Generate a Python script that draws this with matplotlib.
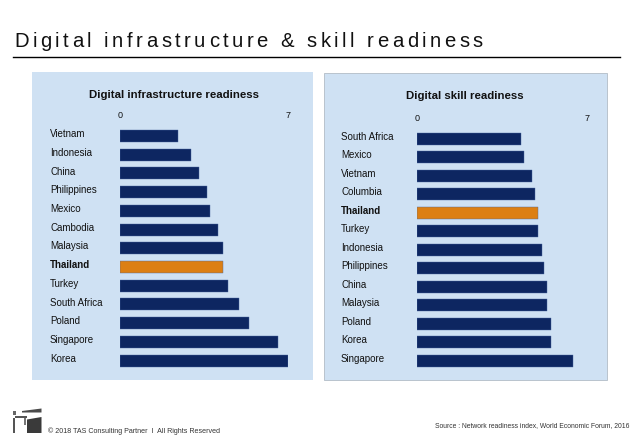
"""Digital infrastructure & skill readiness - two horizontal bar panels."""
import matplotlib
matplotlib.use("Agg")
import matplotlib.pyplot as plt
import matplotlib.patches as mpatches
from matplotlib.transforms import blended_transform_factory

W, H = 638, 442

# Data (scores 0-7)
infra_countries = ["Vietnam", "Indonesia", "China", "Philippines", "Mexico", "Cambodia",
                   "Malaysia", "Thailand", "Turkey", "South Africa", "Poland", "Singapore", "Korea"]
infra_values = [2.40, 2.94, 3.28, 3.62, 3.75, 4.08, 4.28, 4.28, 4.50, 4.96, 5.38, 6.58, 7.00]

skill_countries = ["South Africa", "Mexico", "Vietnam", "Columbia", "Thailand", "Turkey",
                   "Indonesia", "Philippines", "China", "Malaysia", "Poland", "Korea", "Singapore"]
skill_values = [4.29, 4.40, 4.74, 4.87, 4.98, 4.98, 5.14, 5.24, 5.38, 5.38, 5.54, 5.54, 6.42]

highlight = "Thailand"
xticks = [0, 7]

# Colors
C_PANEL = "#cfe1f3"
C_BAR = "#0d2661"
C_HI = "#dc7f13"
C_TEXT = "#111111"
C_FOOT = "#333333"

FONT = "Liberation Sans"
plt.rcParams["font.family"] = [FONT, "DejaVu Sans"]

fig = plt.figure(figsize=(W / 100, H / 100), dpi=100)
fig.patch.set_facecolor("white")


def fx(px):
    return px / W


def fy(py):
    return 1 - py / H


def rect(x0, y0, x1, y1, color, z=-10, **kw):
    fig.patches.append(mpatches.Rectangle((fx(x0), fy(y1)), (x1 - x0) / W, (y1 - y0) / H,
                                          transform=fig.transFigure, facecolor=color,
                                          zorder=z, **kw))


def poly(pts, color):
    fig.patches.append(mpatches.Polygon([(fx(x), fy(y)) for x, y in pts], closed=True,
                                        transform=fig.transFigure, facecolor=color,
                                        edgecolor="none", zorder=1))


def spaced_title(x_px, y_px, s, target_w, size):
    # letter-spaced title, char by char
    r = fig.canvas.get_renderer()
    kw = dict(fontsize=size, family=FONT, color=C_TEXT)

    def width(t):
        tt = fig.text(0, 0, t, **kw)
        bb = tt.get_window_extent(r)
        tt.remove()
        return bb.width

    bar = width("|")
    offs = [0] + [width(s[:i] + "|") - bar for i in range(1, len(s))]
    gap = (target_w - width(s)) / (len(s) - 1)
    for i, ch in enumerate(s):
        if ch == " ":
            continue
        fig.text(fx(x_px + offs[i] + i * gap), fy(y_px), ch, ha="left", va="baseline", **kw)


def panel(box, axbox, title, title_xy, label_x, countries, values, border=False):
    x0, y0, x1, y1 = box
    rect(x0, y0, x1, y1, C_PANEL,
         edgecolor="#b9c3cd" if border else "none", linewidth=0.7 if border else 0)
    fig.text(fx(title_xy[0]), fy(title_xy[1]), title, ha="center", va="center",
             fontsize=8.2, fontweight="bold", color=C_TEXT)

    a0, b0, a1, b1 = axbox
    ax = fig.add_axes([fx(a0), fy(b1), (a1 - a0) / W, (b1 - b0) / H])
    ax.set_facecolor("none")
    pos = list(range(len(countries)))
    colors = [C_HI if c == highlight else C_BAR for c in countries]
    ax.barh(pos, values, height=0.64, color=colors, edgecolor="#4a68a0", linewidth=0.3)
    ax.set_xlim(0, 7)
    ax.set_ylim(len(countries) - 0.5, -0.5)
    for s in ax.spines.values():
        s.set_visible(False)
    ax.set_yticks([])
    ax.xaxis.tick_top()
    ax.set_xticks(xticks)
    ax.set_xticklabels([str(t) for t in xticks])
    ax.tick_params(axis="x", length=0, pad=4.5, labelsize=6.5, labelcolor=C_TEXT)

    tr = blended_transform_factory(fig.transFigure, ax.transData)
    for p, c in zip(pos, countries):
        ax.text(fx(label_x), p - 0.1, c, transform=tr, ha="left", va="center",
                fontsize=7, color=C_TEXT,
                fontweight="bold" if c == highlight else "normal", clip_on=False)
    return ax


# Left panel
panel((32, 72, 313, 380), (120, 126.6, 288, 370.0),
      "Digital infrastructure readiness", (174, 95), 50,
      infra_countries, infra_values)

# Right panel
panel((324, 73, 607, 380), (416.7, 129.45, 586.7, 369.95),
      "Digital skill readiness", (465, 96), 341,
      skill_countries, skill_values, border=True)

# Main title + rule
spaced_title(14, 46.7, "Digital infrastructure & skill readiness", 469, 14.6)
fig.lines.append(plt.Line2D([fx(13), fx(620)], [fy(56.7), fy(56.7)], transform=fig.transFigure,
                            color="black", linewidth=1.0))

# Logo (rough)
poly([(22, 411), (41.5, 408.5), (41.5, 412.5), (22, 412.5)], "#4a4a4a")
rect(13, 411, 15.5, 414.5, "#666666", z=1)
rect(15, 415.5, 27, 417.5, "#555555", z=1)
rect(13, 417.5, 15, 433, "#555555", z=1)
rect(24, 418, 25.5, 425, "#777777", z=1)
poly([(27, 419.5), (41.5, 417), (41.5, 433), (27, 433)], "#3a3a3a")

# Footer
fig.text(fx(47.7), fy(430.7), "\u00a9 2018 TAS Consulting Partner  I  All Rights Reserved",
         ha="left", va="center", fontsize=5.1, color=C_FOOT)
fig.text(fx(629), fy(425.7), "Source : Network readiness index, World Economic Forum, 2016",
         ha="right", va="center", fontsize=4.9, color=C_FOOT)

fig.savefig("out.png", dpi=100, facecolor=fig.get_facecolor())
